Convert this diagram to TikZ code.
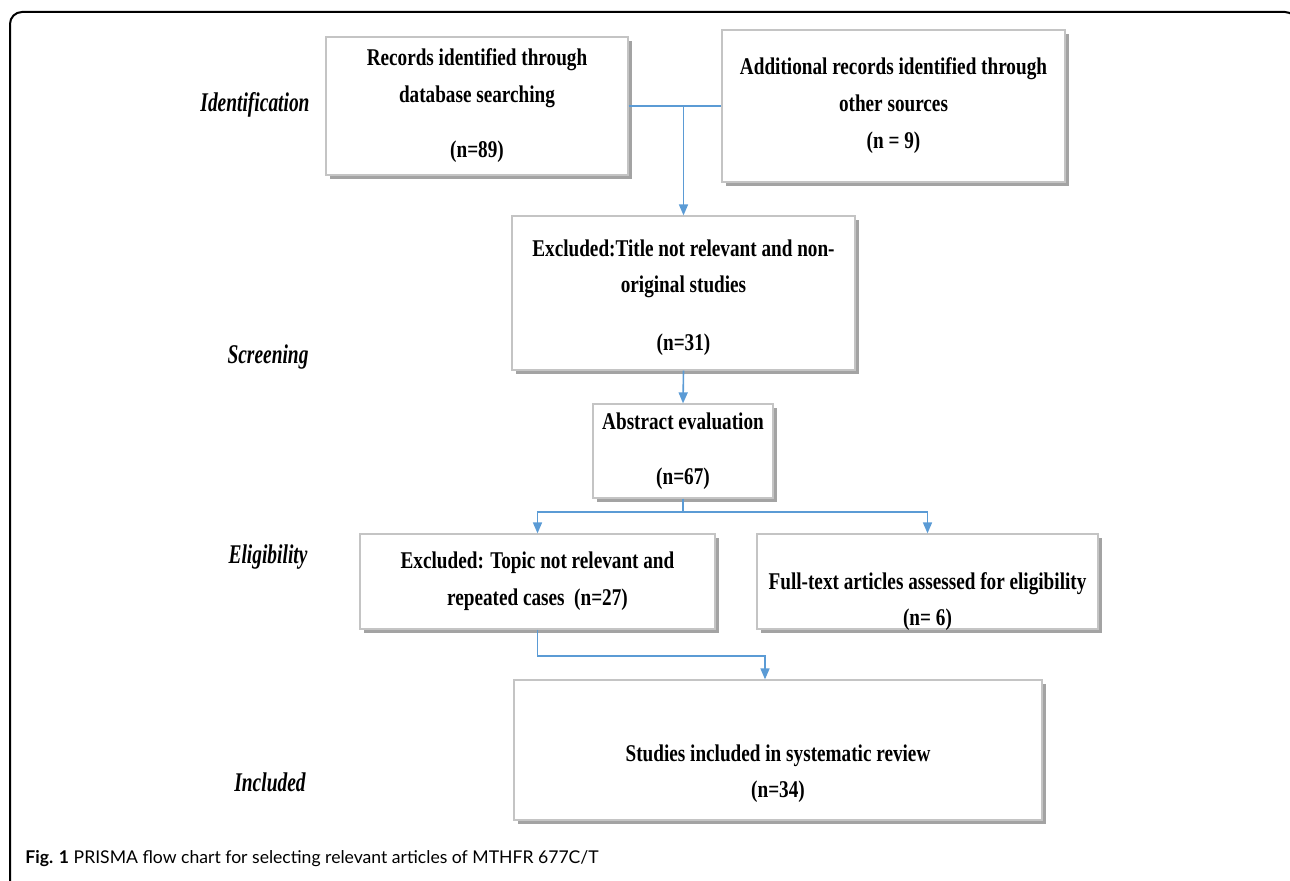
\documentclass[tikz,border=0pt]{standalone}
\usepackage{fontspec}
\setmainfont{Liberation Serif}
\newfontfamily\boxfont[FakeStretch=0.8]{Liberation Serif}
\newfontfamily\stagefont[FakeStretch=0.72]{Liberation Serif}
\newfontfamily\capfont{Lato}
\usetikzlibrary{positioning,arrows.meta,shadows}
\definecolor{flowblue}{HTML}{5B9BD5}
\definecolor{boxgray}{HTML}{C4C4C4}

\begin{document}
\begin{tikzpicture}[x=0.5pt,y=-0.5pt,
  box/.style={draw=boxgray, line width=0.6pt, fill=white, align=center, inner sep=2pt,
    font=\boxfont\bfseries\fontsize{12}{18.5}\selectfont,
    drop shadow={shadow xshift=1.8pt, shadow yshift=-1.8pt, fill=black!45, opacity=.8}},
  boxtxt/.style={align=center, inner sep=0pt, font=\boxfont\bfseries\fontsize{12}{18}\selectfont},
  stage/.style={font=\stagefont\bfseries\itshape\fontsize{13.5}{16}\selectfont},
  flow/.style={draw=flowblue, line width=0.8pt},
  >={Triangle[width=4.5pt,length=5.5pt]}]

\useasboundingbox (0,0) rectangle (1290,881);

% frame
\draw[line width=1pt, rounded corners=6pt] (10,900) -- (10,12) -- (1297,12) -- (1297,900);

% stages
\path
(255,105) node[stage] (ident) {Identification}
(268,357) node[stage] (screen) {Screening}
(268,557) node[stage] (elig) {Eligibility}
(270,782) node[stage] (incl) {Included};

% Identification
\path
(477,106)   node[box, minimum width=151pt, minimum height=69pt] (rec) {Records identified through\\database searching\\[9pt](n=89)}
(893.5,106) node[box, minimum width=171.5pt, minimum height=76pt] (add) {Additional records identified through\\other sources\\(n = 9)};

% Screening
\path
(683.5,293) node[box, minimum width=171.5pt, minimum height=77pt] (excl1) {};
\node[boxtxt] (excl1txt) at ([yshift=-2.5pt]excl1.center) {Excluded:Title not relevant and non-\\original studies\\[11pt](n=31)};
\path
(683,451)   node[box, minimum width=90pt, minimum height=47pt] (abs) {Abstract evaluation\\[9pt](n=67)};

% Eligibility
\path
(537.5,581.5) node[box, minimum width=177.5pt, minimum height=47.5pt] (excl2) {Excluded: Topic not relevant and\\repeated cases~~(n=27)}
(927.5,581.5) node[box, minimum width=170.5pt, minimum height=47.5pt] (full) {};
\node[boxtxt] (fulltxt) at ([yshift=-10.25pt]full.center) {Full-text articles assessed for eligibility\\(n= 6)};

% Included
\path
(778,750) node[box, minimum width=264pt, minimum height=70pt] (stud) {};
\node[boxtxt] (studtxt) at ([yshift=-12pt]stud.center) {Studies included in systematic review\\(n=34)};

% connectors
\draw[flow] (rec.east) -- (add.west);
\draw[flow,->] (rec.east -| excl1.north) -- (excl1.north);
\draw[flow,->] (excl1.south) -- (abs.north);
\coordinate (j2) at (683,512);
\draw[flow] (abs.south) -- (j2);
\draw[flow,->] (j2) -| (excl2.north);
\draw[flow,->] (j2) -| (full.north);
\coordinate (j3) at (765,656);
\draw[flow,->] (excl2.south) |- (j3) -- (j3 |- stud.north);

% caption
\node[anchor=base west, inner sep=0pt, font=\capfont\fontsize{8.8}{10}\selectfont] (cap) at (25,863)
  {\textbf{Fig. 1} PRISMA flow chart for selecting relevant articles of MTHFR 677C/T};

\end{tikzpicture}
\end{document}
